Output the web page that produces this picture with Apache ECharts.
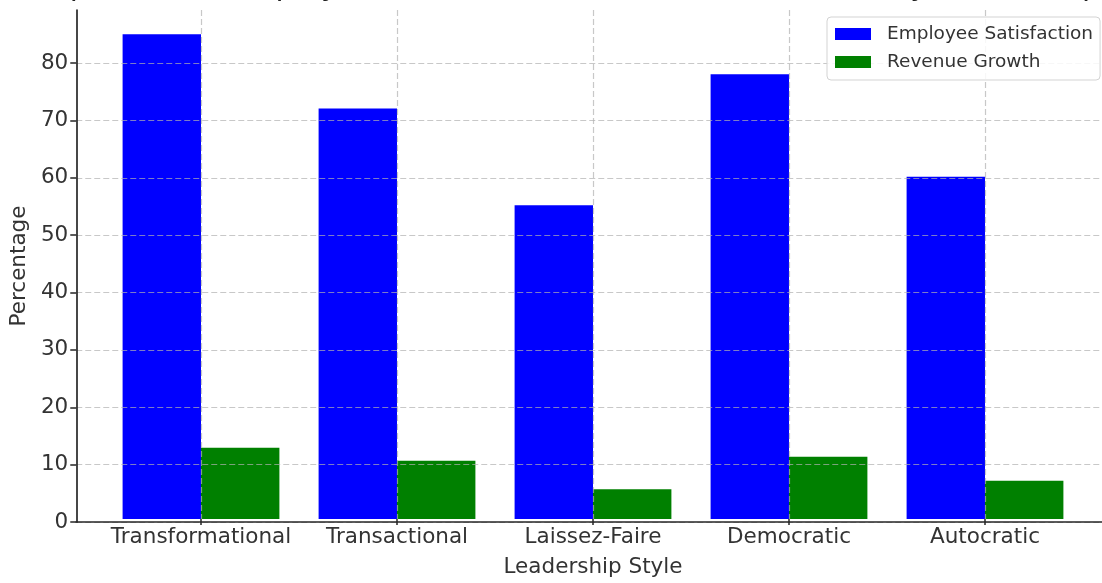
<!DOCTYPE html>
<html>
<head>
<meta charset="utf-8">
<title>Employee Satisfaction and Revenue Growth by Leadership Style</title>
<script src="https://cdn.jsdelivr.net/npm/echarts@6/dist/echarts.min.js"></script>
<style>
  html, body { margin: 0; padding: 0; background: #ffffff; }
  #chart { width: 1102px; height: 583px; }
</style>
</head>
<body>
<div id="chart"></div>
<script>
// Leadership styles and the two measured percentages
const categories = ['Transformational', 'Transactional', 'Laissez-Faire', 'Democratic', 'Autocratic'];
const employeeSatisfaction = [85, 72, 55, 78, 60];
const revenueGrowth = [12.5, 10.2, 5.2, 10.9, 6.7];
const yTicks = [0, 10, 20, 30, 40, 50, 60, 70, 80];
const yMax = 89.25;

const titleText = 'Comparison of Employee Satisfaction and Revenue Growth by Leadership Style';
const FONT = 'DejaVu Sans';
const TEXT = '#333333';
const SPINE = '#262626';
const gridLine = { color: 'rgba(176,176,176,0.7)', width: 1.2, type: [6, 3] };

const chart = echarts.init(document.getElementById('chart'), null, { renderer: 'canvas' });

chart.setOption({
  backgroundColor: '#ffffff',
  animation: false,
  textStyle: { fontFamily: FONT },
  graphic: [{
    type: 'text',
    x: 593.5,
    y: -13,
    z: 20,
    style: {
      text: titleText,
      fontFamily: FONT,
      fontSize: 29.8,
      fill: '#222222',
      align: 'center',
      verticalAlign: 'middle'
    }
  }],
  legend: {
    orient: 'vertical',
    left: 827,
    top: 17,
    z: 10,
    padding: [7, 7, 8, 8],
    itemWidth: 36,
    itemHeight: 12,
    itemGap: 8,
    icon: 'rect',
    backgroundColor: 'rgba(255,255,255,0.85)',
    borderColor: '#d3d3d3',
    borderWidth: 1,
    borderRadius: 4,
    textStyle: {
      fontFamily: FONT,
      fontSize: 18.5,
      color: TEXT,
      lineHeight: 20,
      padding: [0, 0, 0, 11]
    },
    data: ['Employee Satisfaction', 'Revenue Growth']
  },
  grid: [
    // frame with the spines and horizontal grid lines
    { left: 76, right: -9, top: 10, bottom: 61, containLabel: false },
    // band layout for the grouped bars
    { left: 103, right: 19, top: 10, bottom: 61, containLabel: false }
  ],
  xAxis: [
    {
      gridIndex: 0,
      type: 'value',
      min: 0,
      max: 1,
      z: 6,
      axisLine: { show: true, lineStyle: { color: SPINE, width: 1.7 } },
      axisTick: { show: false },
      axisLabel: { show: false },
      splitLine: { show: false }
    },
    {
      gridIndex: 1,
      type: 'category',
      data: categories,
      z: 5,
      name: 'Leadership Style',
      nameLocation: 'middle',
      nameGap: 37,
      nameTextStyle: { fontFamily: FONT, fontSize: 21.5, color: TEXT },
      axisLine: { show: false },
      axisTick: { show: true, interval: 0, alignWithLabel: true, length: 6, lineStyle: { color: SPINE, width: 1.5 } },
      axisLabel: { interval: 0, hideOverlap: false, fontFamily: FONT, fontSize: 21.5, color: TEXT, margin: 7 },
      splitLine: { show: true, interval: 0, alignWithLabel: true, lineStyle: gridLine }
    }
  ],
  yAxis: [
    {
      gridIndex: 0,
      type: 'value',
      min: 0,
      max: yMax,
      z: 5,
      name: 'Percentage',
      nameLocation: 'middle',
      nameGap: 44,
      nameTextStyle: { fontFamily: FONT, fontSize: 21.5, color: TEXT },
      axisLine: { show: true, lineStyle: { color: SPINE, width: 1.7 } },
      axisTick: { show: true, length: 6, customValues: yTicks, lineStyle: { color: SPINE, width: 1.5 } },
      axisLabel: { fontFamily: FONT, fontSize: 21.5, color: TEXT, margin: 8, customValues: yTicks },
      splitLine: { show: true, lineStyle: gridLine }
    },
    {
      gridIndex: 1,
      type: 'value',
      min: 0,
      max: yMax,
      show: false
    }
  ],
  series: [
    {
      name: 'Employee Satisfaction',
      type: 'bar',
      xAxisIndex: 1,
      yAxisIndex: 1,
      data: employeeSatisfaction,
      barGap: '0%',
      barCategoryGap: '20%',
      itemStyle: { color: '#0000ff' }
    },
    {
      name: 'Revenue Growth',
      type: 'bar',
      xAxisIndex: 1,
      yAxisIndex: 1,
      data: revenueGrowth,
      barGap: '0%',
      barCategoryGap: '20%',
      itemStyle: { color: '#008000' }
    }
  ]
});
</script>
</body>
</html>
